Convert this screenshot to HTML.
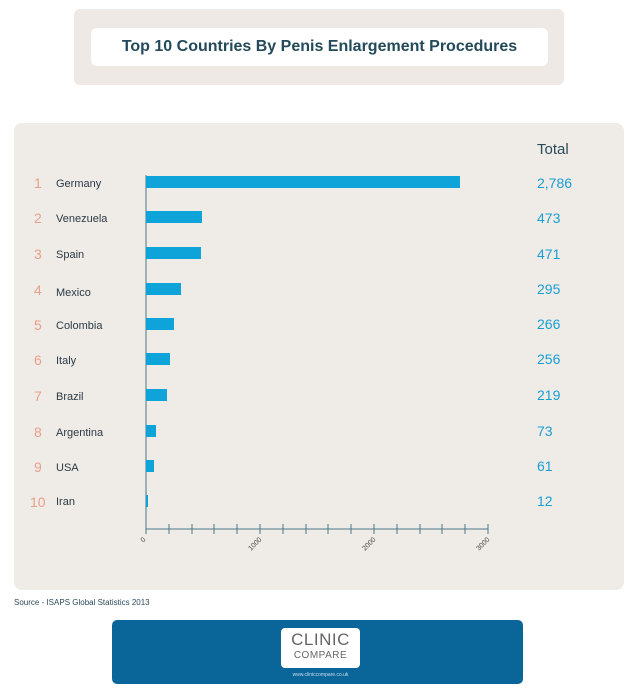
<!DOCTYPE html>
<html><head><meta charset="utf-8"><style>
body{margin:0;width:636px;height:688px;background:#fff;font-family:"Liberation Sans",sans-serif;position:relative;overflow:hidden}
.a{position:absolute}
</style></head><body>
<div class="a" style="left:74px;top:9px;width:490px;height:76px;background:#efe9e5;border-radius:6px"></div>
<div class="a" style="left:91px;top:28px;width:457px;height:38px;background:#fff;border-radius:6px;text-align:center;line-height:38px;font-size:16px;font-weight:bold;color:#234a5a">Top 10 Countries By Penis Enlargement Procedures</div>
<div class="a" style="left:14px;top:123px;width:610px;height:467px;background:#efebe7;border-radius:8px"></div>
<div class="a" style="left:537px;top:141px;font-size:15px;color:#2b4a5a">Total</div>
<svg class="a" style="left:0;top:0" width="636" height="600">
<g font-family="Liberation Sans, sans-serif">
<line x1="146" y1="175" x2="146" y2="529" stroke="#4a7a84" stroke-width="1"/>
<line x1="146" y1="529" x2="488" y2="529" stroke="#4a7a84" stroke-width="1"/>
<g stroke="#4a7a84">
<line x1="146" y1="524" x2="146" y2="534"/><line x1="169" y1="524" x2="169" y2="534"/><line x1="192" y1="524" x2="192" y2="534"/><line x1="214" y1="524" x2="214" y2="534"/><line x1="237" y1="524" x2="237" y2="534"/><line x1="260" y1="524" x2="260" y2="534"/><line x1="283" y1="524" x2="283" y2="534"/><line x1="306" y1="524" x2="306" y2="534"/><line x1="328" y1="524" x2="328" y2="534"/><line x1="351" y1="524" x2="351" y2="534"/><line x1="374" y1="524" x2="374" y2="534"/><line x1="397" y1="524" x2="397" y2="534"/><line x1="420" y1="524" x2="420" y2="534"/><line x1="442" y1="524" x2="442" y2="534"/><line x1="465" y1="524" x2="465" y2="534"/><line x1="488" y1="524" x2="488" y2="534"/>
</g>
<g font-size="7" fill="#444">
<text transform="translate(146,540) rotate(-45)" text-anchor="end">0</text>
<text transform="translate(262,540) rotate(-45)" text-anchor="end">1000</text>
<text transform="translate(376,540) rotate(-45)" text-anchor="end">2000</text>
<text transform="translate(490,540) rotate(-45)" text-anchor="end">3000</text>
</g>
<g fill="#0ea3d9">
<rect x="146" y="176" width="314" height="12"/>
<rect x="146" y="211" width="56" height="12"/>
<rect x="146" y="247" width="55" height="12"/>
<rect x="146" y="283" width="35" height="12"/>
<rect x="146" y="318" width="28" height="12"/>
<rect x="146" y="353" width="24" height="12"/>
<rect x="146" y="389" width="21" height="12"/>
<rect x="146" y="425" width="10" height="12"/>
<rect x="146" y="460" width="8" height="12"/>
<rect x="146" y="495" width="2" height="12"/>
</g>
<g font-size="14" fill="#e8a08a">
<text x="34" y="188">1</text><text x="34" y="223">2</text><text x="34" y="259">3</text><text x="34" y="295">4</text><text x="34" y="330">5</text><text x="34" y="365">6</text><text x="34" y="401">7</text><text x="34" y="437">8</text><text x="34" y="472">9</text><text x="30" y="507">10</text>
</g>
<g font-size="11" fill="#2b3a44">
<text x="56" y="187">Germany</text><text x="56" y="222">Venezuela</text><text x="56" y="258">Spain</text><text x="56" y="296">Mexico</text><text x="56" y="329">Colombia</text><text x="56" y="364">Italy</text><text x="56" y="400">Brazil</text><text x="56" y="436">Argentina</text><text x="56" y="471">USA</text><text x="56" y="505">Iran</text>
</g>
<g font-size="14" fill="#1a9fd4">
<text x="537" y="188">2,786</text><text x="537" y="223">473</text><text x="537" y="259">471</text><text x="537" y="294">295</text><text x="537" y="329">266</text><text x="537" y="364">256</text><text x="537" y="400">219</text><text x="537" y="436">73</text><text x="537" y="471">61</text><text x="537" y="506">12</text>
</g>
</g></svg>
<div class="a" style="left:14px;top:598px;font-size:8px;color:#2b4a5a">Source - ISAPS Global Statistics 2013</div>
<div class="a" style="left:112px;top:620px;width:411px;height:64px;background:#0a6699;border-radius:5px"></div>
<div class="a" style="left:281px;top:628px;width:79px;height:40px;background:#fff;border-radius:4px;text-align:center;color:#666">
<div style="font-size:17px;line-height:20px;margin-top:2px;letter-spacing:0.5px">CLINIC</div>
<div style="font-size:10px;line-height:12px;letter-spacing:0.5px">COMPARE</div></div>
<div class="a" style="left:281px;top:672px;width:79px;text-align:center;font-size:5px;color:#cde">www.cliniccompare.co.uk</div>
</body></html>
